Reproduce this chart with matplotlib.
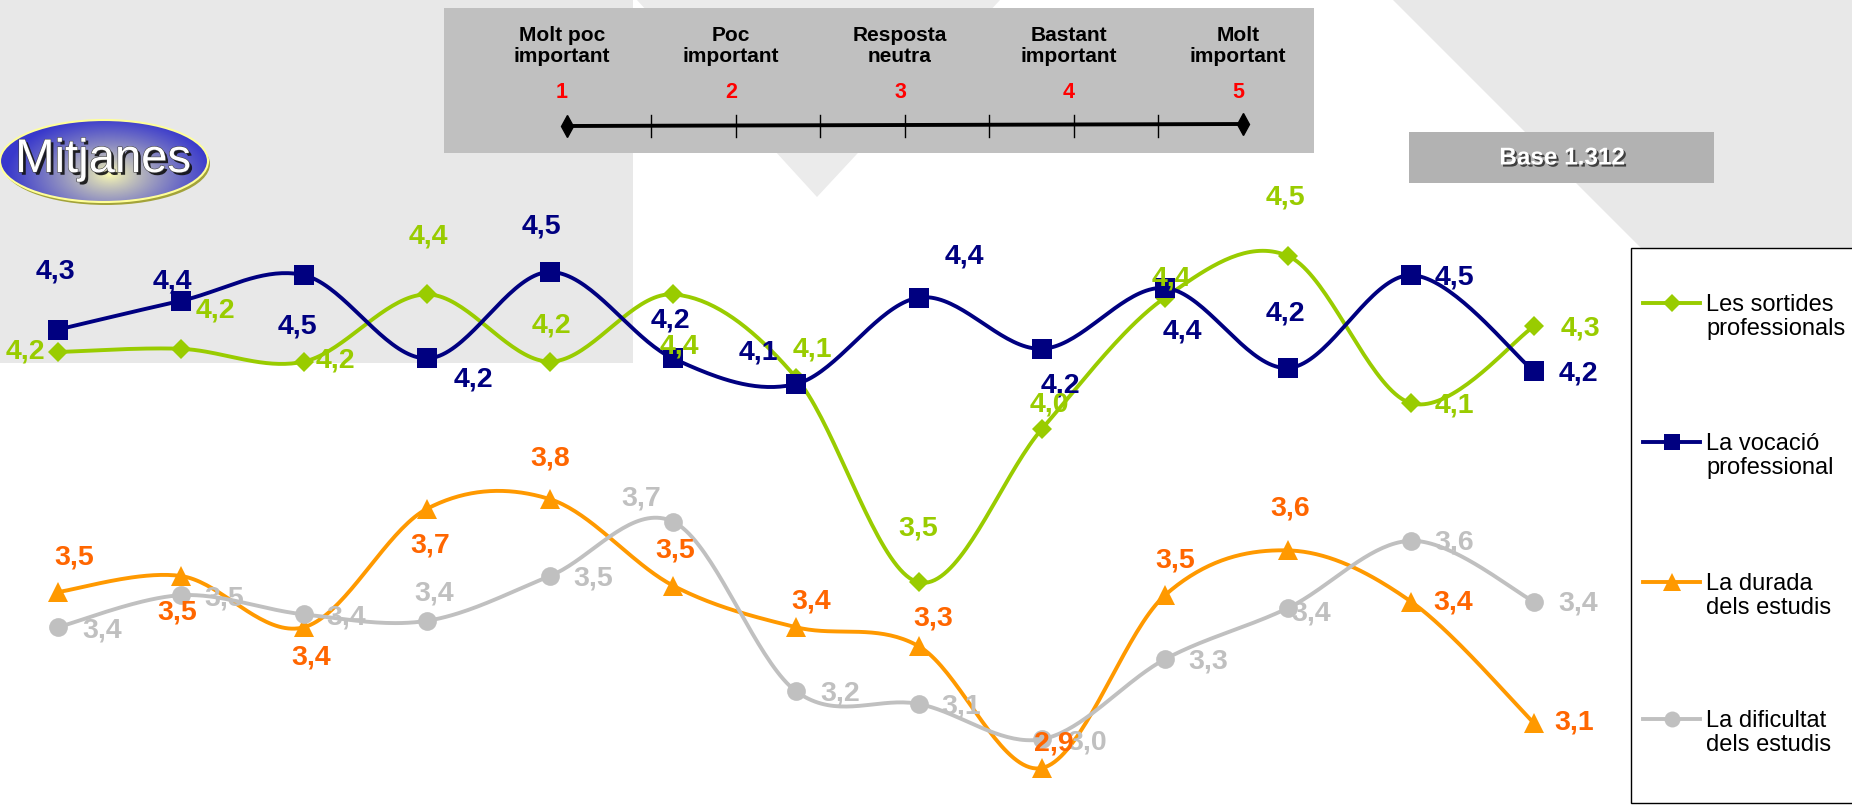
import numpy as np
import matplotlib
matplotlib.use("Agg")
import matplotlib.pyplot as plt
from matplotlib.patches import Rectangle, Polygon, Ellipse
from matplotlib.lines import Line2D
import matplotlib.patheffects as pe

plt.rcParams['font.family'] = ['Liberation Sans', 'DejaVu Sans']

# ---------------- data ----------------
categories = list(range(13))   # 13 unnamed items along the horizontal axis
sortides = [4.22, 4.23, 4.19, 4.40, 4.19, 4.40, 4.14, 3.50, 3.98, 4.39, 4.52, 4.06, 4.30]
vocacio = [4.29, 4.38, 4.46, 4.20, 4.47, 4.20, 4.12, 4.39, 4.23, 4.42, 4.17, 4.46, 4.16]
durada = [3.47, 3.52, 3.36, 3.73, 3.76, 3.49, 3.36, 3.30, 2.92, 3.46, 3.60, 3.44, 3.06]
dificultat = [3.36, 3.46, 3.40, 3.38, 3.52, 3.69, 3.16, 3.12, 3.01, 3.26, 3.42, 3.63, 3.44]
series_names = ["Les sortides\nprofessionals", "La vocació\nprofessional",
                "La durada\ndels estudis", "La dificultat\ndels estudis"]
scale_values = [1, 2, 3, 4, 5]
scale_labels = ["Molt poc\nimportant", "Poc\nimportant", "Resposta\nneutra",
                "Bastant\nimportant", "Molt\nimportant"]
base_text = "Base 1.312"
title_text = "Mitjanes"

# ---------------- styles ----------------
line_colors = ["#99cc00", "#000080", "#ff9900", "#c0c0c0"]
label_colors = ["#99cc00", "#000080", "#ff6600", "#c0c0c0"]
markers = ["D", "s", "^", "o"]
msizes = [10.3, 14.0, 15.0, 13.5]
# label offsets in pixels (dx right, dy down)
green_off = [(-33, -1), (34, -38), (31, -1), (1, -58), (1, -36), (6, 52), (16, -28),
             (-1, -54), (7, -24), (6, -19), (-3, -59), (43, 2), (46, 2)]
blue_off = [(-3, -58), (-9, -19), (-7, 51), (46, 21), (-9, -46), (-3, -38), (-38, -32),
            (45, -41), (18, 37), (17, 43), (-3, -55), (43, 2), (44, 2)]
orange_off = [(16, -35), (-4, 36), (7, 30), (3, 37), (0, -41), (2, -35), (15, -26),
              (14, -28), (12, -25), (10, -35), (2, -42), (42, 1), (40, -1)]
gray_off = [(44, 3), (43, 3), (42, 3), (7, -27), (43, 2), (-32, -23), (44, 2),
            (42, 2), (45, 3), (43, 2), (23, 5), (43, 2), (44, 2)]

W, H = 1852, 805
fig = plt.figure(figsize=(W / 100, H / 100), dpi=100)
fig.patch.set_facecolor("white")

# background / decoration axes in pixel coordinates
bg = fig.add_axes([0, 0, 1, 1], zorder=0)
bg.set_xlim(0, W)
bg.set_ylim(H, 0)
bg.axis("off")

light = "#e8e8e8"
bg.add_patch(Rectangle((0, 0), 633, 363, facecolor=light, edgecolor="none", zorder=0))
bg.add_patch(Polygon([(637, 0), (1000, 0), (817, 197)], closed=True,
                     facecolor="#ebebeb", edgecolor="none", zorder=0))
bg.add_patch(Polygon([(1393, 0), (W, 0), (W, 459)], closed=True,
                     facecolor=light, edgecolor="none", zorder=0))

# scale box
bg.add_patch(Rectangle((444, 8), 870, 145, facecolor="#c0c0c0", edgecolor="none", zorder=1))

# Base box
bg.add_patch(Rectangle((1409, 132), 305, 51, facecolor="#b2b2b2", edgecolor="none", zorder=1))
bg.text(1562, 158, base_text, ha="center", va="center", fontsize=17.5, fontweight="bold",
        color="white", zorder=3,
        path_effects=[pe.SimplePatchShadow(offset=(1.5, -1.5), shadow_rgbFace="#333333", alpha=0.9),
                      pe.Normal()])

# Mitjanes ellipse with gradient
ecx, ecy, ew, eh = 104, 161, 208, 82
bg.add_patch(Ellipse((ecx + 2, ecy + 3), ew, eh, facecolor="#a3a33a", edgecolor="none", zorder=2))
ell = Ellipse((ecx, ecy), ew, eh, facecolor="none", edgecolor="#ffff99", lw=1.5, zorder=4)
bg.add_patch(ell)
gx = np.linspace(ecx - ew / 2, ecx + ew / 2, 300)
gy = np.linspace(ecy - eh / 2, ecy + eh / 2, 120)
GX, GY = np.meshgrid(gx, gy)
r = np.sqrt(((GX - (ecx + 6)) / (ew * 0.50)) ** 2 + ((GY - (ecy + 14)) / (eh * 0.70)) ** 2)
t = np.clip(r, 0, 1)[..., None] ** 0.8
c_in = np.array([1.0, 1.0, 0.70])
c_out = np.array([0.22, 0.22, 0.80])
img = c_in * (1 - t) + c_out * t
im = bg.imshow(img, extent=(ecx - ew / 2, ecx + ew / 2, ecy + eh / 2, ecy - eh / 2),
               origin="upper", aspect="auto", zorder=3, interpolation="bilinear")
im.set_clip_path(ell)
bg.text(ecx - 1, ecy - 1, title_text, ha="center", va="center", fontsize=34, color="white", zorder=5,
        path_effects=[pe.SimplePatchShadow(offset=(2, -2), shadow_rgbFace="#111111", alpha=0.9),
                      pe.Stroke(linewidth=0.8, foreground="#444444"), pe.Normal()])
bg.set_xlim(0, W)
bg.set_ylim(H, 0)

# scale graphic: its own axes in value units
sx0, sx1 = 567, 1243
sc = fig.add_axes([0, 0, 1, 1], zorder=1)
sc.patch.set_alpha(0)
sc.axis("off")
px_per = (sx1 - sx0) / (scale_values[-1] - scale_values[0])
sc.set_xlim(scale_values[0] - sx0 / px_per, scale_values[0] + (W - sx0) / px_per)
sc.set_ylim(H, 0)
sc.plot([scale_values[0], scale_values[-1]], [126, 124], color="black", lw=2.8, zorder=3)
sc.plot([scale_values[0], scale_values[-1]], [126, 124], ls="none", marker="d", ms=11,
        color="black", zorder=4)
ticks = [v + 0.5 for v in scale_values[:-1]] + scale_values[1:-1]
for tv in ticks:
    sc.plot([tv, tv], [115, 137], color="black", lw=1.0, zorder=3)
for v, lab in zip(scale_values, scale_labels):
    sc.annotate(lab, (v, 46), xytext=(-5, 0), textcoords="offset pixels", ha="center",
                va="center", fontsize=15, fontweight="bold", color="black",
                linespacing=1.15)
    sc.annotate(str(v), (v, 93), xytext=(-5, 0), textcoords="offset pixels", ha="center",
                va="center", fontsize=15.5, fontweight="bold", color="#ff0000")

# ---------------- data axes ----------------
ax = fig.add_axes([0, 0, 1, 1], zorder=2)
ax.patch.set_alpha(0)
ax.axis("off")
xstep, x0pix = 123.0, 58.0
ax.set_xlim(-x0pix / xstep, (W - x0pix) / xstep)
vtop, vscale = 5.32, 320.0
ax.set_ylim(vtop - H / vscale, vtop)


def smooth(x, y, n=40):
    pts = np.column_stack([x, y]).astype(float)
    P = np.vstack([pts[0], pts, pts[-1]])
    out = []
    tt = np.linspace(0, 1, n)[:, None]
    for i in range(1, len(P) - 2):
        p0, p1, p2, p3 = P[i - 1], P[i], P[i + 1], P[i + 2]
        c1 = p1 + (p2 - p0) / 6.0
        c2 = p2 - (p3 - p1) / 6.0
        seg = (1 - tt) ** 3 * p1 + 3 * (1 - tt) ** 2 * tt * c1 + 3 * (1 - tt) * tt ** 2 * c2 + tt ** 3 * p2
        out.append(seg if i == 1 else seg[1:])
    return np.vstack(out)


all_series = [sortides, vocacio, durada, dificultat]
all_offsets = [green_off, blue_off, orange_off, gray_off]
x = np.array(categories, dtype=float)
for k, vals in enumerate(all_series):
    cur = smooth(x, vals)
    ax.plot(cur[:, 0], cur[:, 1], color=line_colors[k], lw=2.8, solid_capstyle="round",
            zorder=2 + k)
    ax.plot(x, vals, ls="none", marker=markers[k], ms=msizes[k], color=line_colors[k],
            markeredgewidth=0, zorder=2 + k)

for k in [3, 2, 1, 0]:
    for xi, v, (dx, dy) in zip(x, all_series[k], all_offsets[k]):
        ax.annotate(f"{v:.1f}".replace(".", ","), (xi, v), xytext=(dx, -dy),
                    textcoords="offset pixels", ha="center", va="center",
                    fontsize=20.5, fontweight="bold", color=label_colors[k], zorder=10)

# ---------------- legend (drawn in pixel space) ----------------
bg.add_patch(Rectangle((1631, 248), 260, 555, facecolor="white", edgecolor="black",
                       lw=1.0, zorder=6))
leg_y = [303, 442, 582, 719]
for k, (name, ly) in enumerate(zip(series_names, leg_y)):
    bg.add_line(Line2D([1643, 1700], [ly, ly], color=line_colors[k], lw=2.8, zorder=7))
    bg.add_line(Line2D([1672], [ly], ls="none", marker=markers[k], ms=msizes[k] * 0.85,
                       color=line_colors[k], markeredgewidth=0, zorder=8))
    bg.text(1706, ly + 14, name, ha="left", va="center", fontsize=17, color="black",
            linespacing=1.15, zorder=8)

fig.savefig("out.png", dpi=100, facecolor="white")
